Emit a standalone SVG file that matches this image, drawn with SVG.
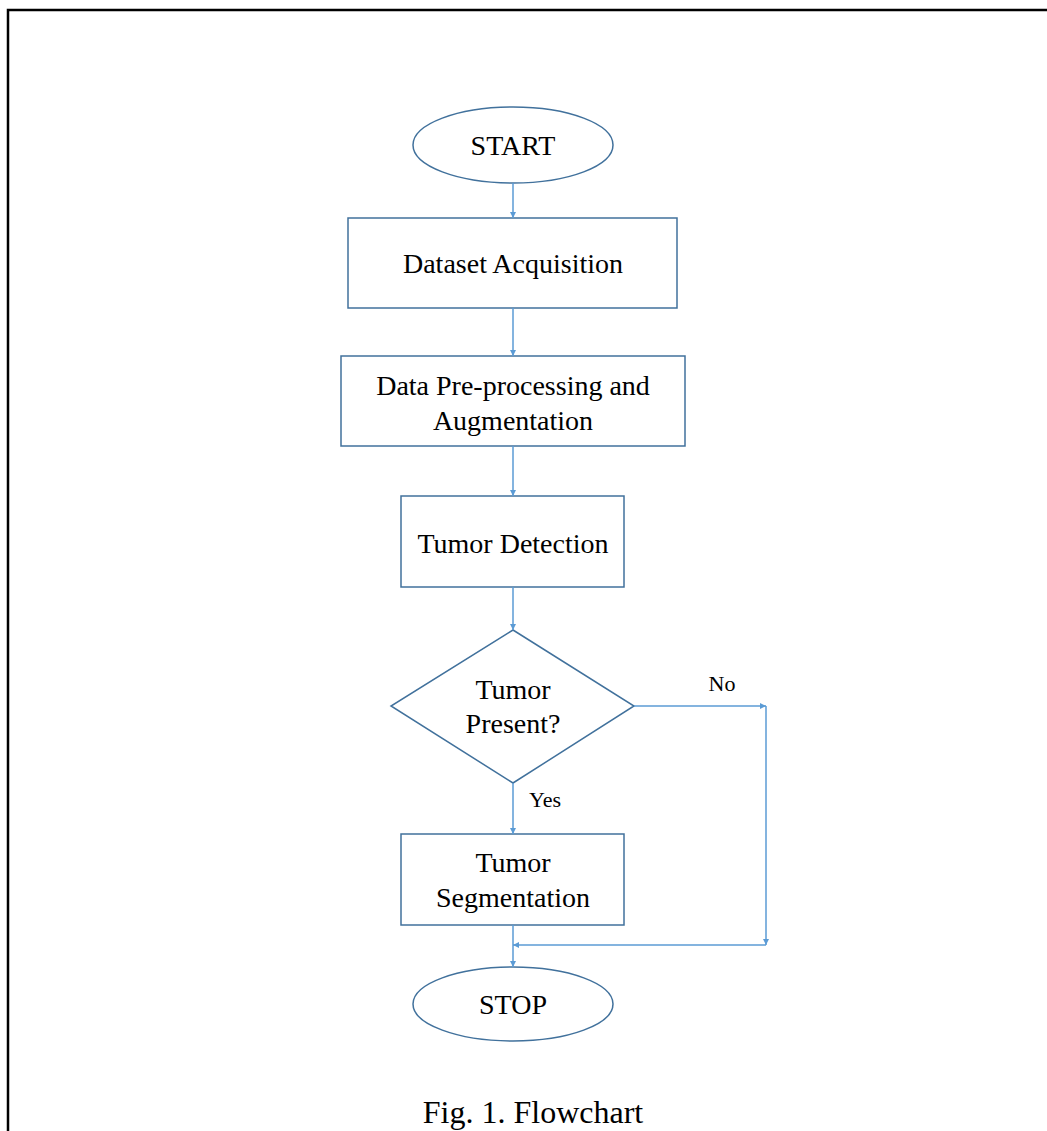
<svg xmlns="http://www.w3.org/2000/svg" width="1047" height="1131" viewBox="0 0 1047 1131">
<style>
.node{fill:#fff;stroke:#41719C;stroke-width:1.5}
.t{font-family:"Liberation Serif","Times New Roman",serif;font-size:28px;fill:#000;text-anchor:middle}
.lbl{font-family:"Liberation Serif","Times New Roman",serif;font-size:22px;fill:#000;text-anchor:middle}
.c{fill:none;stroke:#5B9BD5;stroke-width:1.5;marker-end:url(#ah)}
</style>
<defs>
<marker id="ah" markerWidth="6" markerHeight="6" refX="6" refY="3" orient="auto" markerUnits="userSpaceOnUse">
<path d="M0,0 L6,3 L0,6 z" fill="#5B9BD5"/>
</marker>
</defs>
<rect width="1047" height="1131" fill="#fff"/>
<path d="M8,1131 V10 H1047" fill="none" stroke="#000" stroke-width="2.5"/>
<g id="start"><ellipse class="node" cx="513" cy="145" rx="100" ry="38"/><text class="t" x="513" y="155">START</text></g>
<g id="dataset"><rect class="node" x="348" y="218" width="329" height="90"/><text class="t" x="513" y="273">Dataset Acquisition</text></g>
<g id="preprocess"><rect class="node" x="341" y="356" width="344" height="90"/><text class="t" x="513" y="395">Data Pre-processing and</text><text class="t" x="513" y="430">Augmentation</text></g>
<g id="detection"><rect class="node" x="401" y="496" width="223" height="91"/><text class="t" x="513" y="553">Tumor Detection</text></g>
<g id="decision"><polygon class="node" points="513,630 634,706 513,783 391,706"/><text class="t" x="513" y="699">Tumor</text><text class="t" x="513" y="733">Present?</text></g>
<g id="segmentation"><rect class="node" x="401" y="834" width="223" height="91"/><text class="t" x="513" y="872">Tumor</text><text class="t" x="513" y="907">Segmentation</text></g>
<g id="stop"><ellipse class="node" cx="513" cy="1004" rx="100" ry="37"/><text class="t" x="513" y="1014">STOP</text></g>
<g id="connectors">
<path class="c" d="M513,183 V218"/>
<path class="c" d="M513,308 V356"/>
<path class="c" d="M513,446 V496"/>
<path class="c" d="M513,587 V630"/>
<path class="c" d="M513,783 V834"/>
<path class="c" d="M513,925 V967"/>
<path class="c" d="M634,706 H766"/>
<path class="c" d="M766,706 V945"/>
<path class="c" d="M766,945 H513"/>
<text class="lbl" x="722" y="691">No</text>
<text class="lbl" x="545" y="807">Yes</text>
</g>
<text x="533" y="1123" font-family="Liberation Serif,'Times New Roman',serif" font-size="32" text-anchor="middle" fill="#000">Fig. 1. Flowchart</text>
</svg>
